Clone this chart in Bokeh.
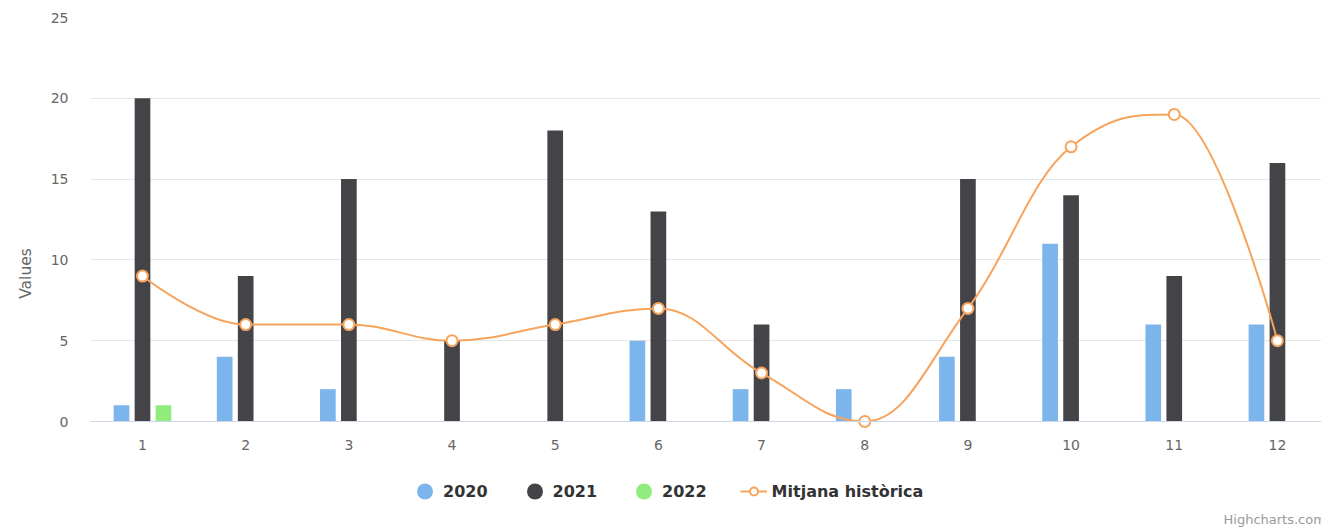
import numpy as np
from bokeh.plotting import figure
from bokeh.models import (ColumnDataSource, Range1d, FixedTicker, Legend,
                          LegendItem, Label, Title)
from bokeh.transform import dodge
from bokeh.embed import file_html
from bokeh.resources import INLINE

# ---------------- data ----------------
months = [1, 2, 3, 4, 5, 6, 7, 8, 9, 10, 11, 12]
v2020 = [1, 4, 2, 0, 0, 5, 2, 2, 4, 11, 6, 6]
v2021 = [20, 9, 15, 5, 18, 13, 6, 0, 15, 14, 9, 16]
v2022 = [1, None, None, None, None, None, None, None, None, None, None, None]
mitjana = [9, 6, 6, 5, 6, 7, 3, 0, 7, 17, 19, 5]
y_ticks = [0, 5, 10, 15, 20, 25]
series_names = ["2020", "2021", "2022", "Mitjana històrica"]
colors = ["#7cb5ec", "#434348", "#90ed7d", "#f7a35c"]


def nan(v):
    return [np.nan if a is None else a for a in v]


src = ColumnDataSource(dict(x=months, a=nan(v2020), b=nan(v2021), c=nan(v2022)))


# Highcharts-like spline control points (smoothing 1.5)
def spline_segments(xs, ys, smoothing=1.5):
    n = len(xs)
    denom = smoothing + 1
    lc = [None] * n
    rc = [None] * n
    for i in range(n):
        px, py = xs[i], ys[i]
        if 0 < i < n - 1:
            lx, ly = xs[i - 1], ys[i - 1]
            nx, ny = xs[i + 1], ys[i + 1]
            lcx = (smoothing * px + lx) / denom
            lcy = (smoothing * py + ly) / denom
            rcx = (smoothing * px + nx) / denom
            rcy = (smoothing * py + ny) / denom
            corr = 0.0
            if rcx != lcx:
                corr = (rcy - lcy) * (rcx - px) / (rcx - lcx) + py - rcy
            lcy += corr
            rcy += corr
            if lcy > ly and lcy > py:
                lcy = max(ly, py); rcy = 2 * py - lcy
            elif lcy < ly and lcy < py:
                lcy = min(ly, py); rcy = 2 * py - lcy
            if rcy > ny and rcy > py:
                rcy = max(ny, py); lcy = 2 * py - rcy
            elif rcy < ny and rcy < py:
                rcy = min(ny, py); lcy = 2 * py - rcy
            lc[i] = (lcx, lcy)
            rc[i] = (rcx, rcy)
        else:
            lc[i] = (px, py)
            rc[i] = (px, py)
    seg = dict(x0=[], y0=[], x1=[], y1=[], cx0=[], cy0=[], cx1=[], cy1=[])
    for i in range(1, n):
        seg["x0"].append(xs[i - 1]); seg["y0"].append(ys[i - 1])
        seg["x1"].append(xs[i]); seg["y1"].append(ys[i])
        seg["cx0"].append(rc[i - 1][0]); seg["cy0"].append(rc[i - 1][1])
        seg["cx1"].append(lc[i][0]); seg["cy1"].append(lc[i][1])
    return seg


# ---------------- figure ----------------
# frame covers the bottom area too (legend + credits live inside it);
# the x axis is pinned at y = 0
p = figure(width=1321, height=529, output_backend="svg", toolbar_location=None,
           x_range=Range1d(0.496, 12.427), y_range=Range1d(-6.683, 25),
           min_border_left=90, min_border_right=0, min_border_top=17,
           min_border_bottom=0)
p.outline_line_color = None
p.background_fill_color = "white"
p.border_fill_color = "white"

p.xgrid.visible = False
p.ygrid.grid_line_color = "#e6e6e6"
p.ygrid.grid_line_width = 1

# bars
off = 0.2035
bw = 0.152
p.vbar(x=dodge("x", -off, range=p.x_range), top="a", width=bw, source=src,
       fill_color=colors[0], line_color=None)
p.vbar(x=dodge("x", 0, range=p.x_range), top="b", width=bw, source=src,
       fill_color=colors[1], line_color=None)
p.vbar(x=dodge("x", off, range=p.x_range), top="c", width=bw, source=src,
       fill_color=colors[2], line_color=None)

# spline line
seg = spline_segments(months, mitjana)
p.bezier(x0="x0", y0="y0", x1="x1", y1="y1", cx0="cx0", cy0="cy0",
         cx1="cx1", cy1="cy1", source=ColumnDataSource(seg),
         line_color=colors[3], line_width=2)
p.scatter(x=months, y=mitjana, size=11, marker="circle", fill_color="white",
          line_color=colors[3], line_width=2)

# axes
p.xaxis.ticker = FixedTicker(ticks=months)
p.yaxis.ticker = FixedTicker(ticks=y_ticks)
for ax in (p.xaxis[0], p.yaxis[0]):
    ax.major_tick_line_color = None
    ax.major_tick_out = 0
    ax.major_tick_in = 0
    ax.minor_tick_line_color = None
    ax.minor_tick_out = 0
    ax.major_label_text_font = "DejaVu Sans"
    ax.major_label_text_font_size = "14px"
    ax.major_label_text_color = "#666666"
p.xaxis.fixed_location = 0
p.xaxis.axis_line_color = "#ccd6eb"
p.xaxis.axis_line_width = 1
p.xaxis.major_label_standoff = 18
p.yaxis.axis_line_color = None
p.yaxis.major_label_standoff = 22

ytitle = Title(text="Values", align="center", offset=54, standoff=26,
               text_font="DejaVu Sans", text_font_size="15.5px",
               text_font_style="normal", text_color="#666666")
p.add_layout(ytitle, "left")

# legend (dummy renderers for the legend symbols)
def dummy_dot(c):
    return p.ellipse(x=[np.nan], y=[np.nan], width=10, height=10,
                     width_units="screen", height_units="screen",
                     fill_color=c, line_color=None)


d0 = dummy_dot(colors[0])
d1 = dummy_dot(colors[1])
d2 = dummy_dot(colors[2])
dl = p.line(x=[np.nan], y=[np.nan], line_color=colors[3], line_width=2)
dm = p.scatter(x=[np.nan], y=[np.nan], marker="circle", fill_color="white",
               line_color=colors[3], line_width=2)

leg = Legend(items=[LegendItem(label=series_names[0], renderers=[d0]),
                    LegendItem(label=series_names[1], renderers=[d1]),
                    LegendItem(label=series_names[2], renderers=[d2]),
                    LegendItem(label=series_names[3], renderers=[dl, dm])],
             location=(321, 28), orientation="horizontal", padding=0, margin=0,
             glyph_width=27, glyph_height=20, label_standoff=5, spacing=33,
             border_line_color=None, background_fill_alpha=0,
             label_text_font="DejaVu Sans", label_text_font_style="bold",
             label_text_font_size="16px", label_text_color="#333333",
             label_height=20)
p.add_layout(leg, "center")

credit = Label(x=1133, y=10, x_units="screen", y_units="screen",
               text="Highcharts.com", text_font="DejaVu Sans",
               text_font_size="13px", text_color="#999999",
               text_baseline="middle")
p.add_layout(credit)

open("out.html", "w").write(file_html(p, INLINE))
